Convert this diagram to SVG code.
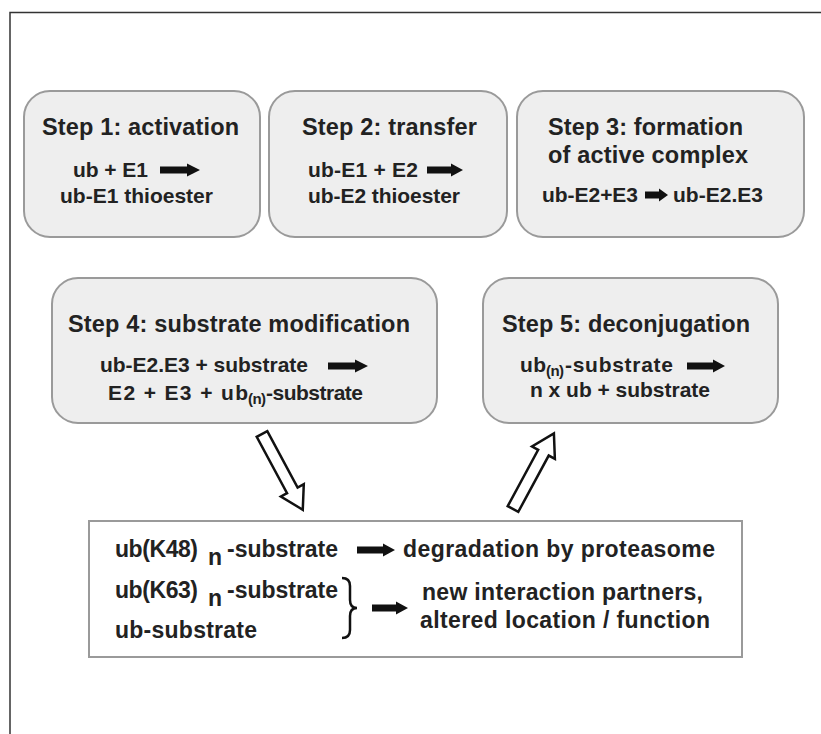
<svg xmlns="http://www.w3.org/2000/svg" width="821" height="734" viewBox="0 0 821 734">
  <style>
    text { font-family: "Liberation Sans", Arial, Helvetica, sans-serif; font-weight: bold; fill: #222; }
    .title { font-size: 23.5px; }
    .rx { font-size: 21px; }
    .sub { font-size: 15px; }
    .lst { font-size: 23px; }
    .step { fill: #eeeeee; stroke: #9a9a9a; stroke-width: 2; }
    .panel { fill: #ffffff; stroke: #9a9a9a; stroke-width: 2; }
    .solid { fill: #111; stroke: none; }
    .hollow { fill: #ffffff; stroke: #111; stroke-width: 2.5; stroke-linejoin: miter; }
    .brace { fill: none; stroke: #111; stroke-width: 2.5; }
  </style>
  <defs>
    <!-- block arrow pointing along +x, 86 long -->
    <polygon id="hollow-arrow" points="0,-6 64,-6 64,-13 86,0 64,13 64,6 0,6"/>
  </defs>

  <rect x="0" y="0" width="821" height="734" fill="#ffffff"/>
  <!-- outer frame -->
  <path d="M10,734 V12.5 H821" fill="none" stroke="#333" stroke-width="1.5"/>

  <g id="step1">
    <rect class="step" x="24" y="91" width="236" height="146" rx="26"/>
    <text class="title" x="42" y="135" textLength="197">Step 1: activation</text>
    <text class="rx" x="73" y="177" textLength="75">ub + E1</text>
    <path class="solid" d="M160,166.5 H187 V163.5 L200,170 L187,176.5 V173.5 H160 Z"/>
    <text class="rx" x="60" y="203" textLength="153">ub-E1 thioester</text>
  </g>

  <g id="step2">
    <rect class="step" x="269" y="91" width="238" height="146" rx="26"/>
    <text class="title" x="302" y="135" textLength="175">Step 2: transfer</text>
    <text class="rx" x="308" y="177" textLength="110">ub-E1 + E2</text>
    <path class="solid" d="M427,166.5 H451 V163.5 L463,170 L451,176.5 V173.5 H427 Z"/>
    <text class="rx" x="308" y="203" textLength="152">ub-E2 thioester</text>
  </g>

  <g id="step3">
    <rect class="step" x="517" y="91" width="287" height="146" rx="26"/>
    <text class="title" x="548" y="135" textLength="195">Step 3: formation</text>
    <text class="title" x="548" y="163" textLength="200">of active complex</text>
    <text class="rx" x="542" y="202" textLength="96">ub-E2+E3</text>
    <path class="solid" d="M645,191.5 H659 V188.5 L668,195 L659,201.5 V198.5 H645 Z"/>
    <text class="rx" x="673" y="202" textLength="90">ub-E2.E3</text>
  </g>

  <g id="step4">
    <rect class="step" x="52" y="278" width="385" height="145" rx="26"/>
    <text class="title" x="68" y="332" textLength="342">Step 4: substrate modification</text>
    <text class="rx" x="100" y="372" textLength="208">ub-E2.E3 + substrate</text>
    <path class="solid" d="M328,362.5 H355 V359.5 L368,366 L355,372.5 V369.5 H328 Z"/>
    <text class="rx" x="108" y="400" textLength="140">E2 + E3 + ub</text>
    <text class="sub" x="248" y="404" textLength="18">(n)</text>
    <text class="rx" x="266" y="400" textLength="97">-substrate</text>
  </g>

  <g id="step5">
    <rect class="step" x="483" y="278" width="295" height="145" rx="26"/>
    <text class="title" x="502" y="332" textLength="248">Step 5: deconjugation</text>
    <text class="rx" x="520" y="372" textLength="26">ub</text>
    <text class="sub" x="546" y="376" textLength="18">(n)</text>
    <text class="rx" x="565" y="372" textLength="108">-substrate</text>
    <path class="solid" d="M687,362.5 H713 V359.5 L725,366 L713,372.5 V369.5 H687 Z"/>
    <text class="rx" x="530" y="397" textLength="180">n x ub + substrate</text>
  </g>

  <g id="outcomes">
    <rect class="panel" x="89" y="521" width="653" height="136"/>
    <text class="lst" x="115" y="557" textLength="83">ub(K48)</text>
    <text class="lst" x="208" y="565">n</text>
    <text class="lst" x="227" y="557" textLength="111">-substrate</text>
    <path class="solid" d="M357,546.5 H383 V543.5 L395,550 L383,556.5 V553.5 H357 Z"/>
    <text class="lst" x="403" y="557" textLength="312">degradation by proteasome</text>

    <text class="lst" x="115" y="598" textLength="83">ub(K63)</text>
    <text class="lst" x="208" y="606">n</text>
    <text class="lst" x="227" y="598" textLength="111">-substrate</text>
    <text class="lst" x="115" y="638" textLength="142">ub-substrate</text>
    <path class="brace" d="M342,578 Q350,578 350,586 V600 Q350,608 357,608 Q350,608 350,616 V630 Q350,638 342,638"/>
    <path class="solid" d="M372,604.5 H396 V601.5 L408,608 L396,614.5 V611.5 H372 Z"/>
    <text class="lst" x="422" y="600" textLength="281">new interaction partners,</text>
    <text class="lst" x="420" y="628" textLength="290">altered location / function</text>
  </g>

  <g id="connectors">
    <use href="#hollow-arrow" class="hollow" transform="translate(262,434) rotate(61.7)"/>
    <use href="#hollow-arrow" class="hollow" transform="translate(513,509) rotate(-61.6)"/>
  </g>
</svg>
